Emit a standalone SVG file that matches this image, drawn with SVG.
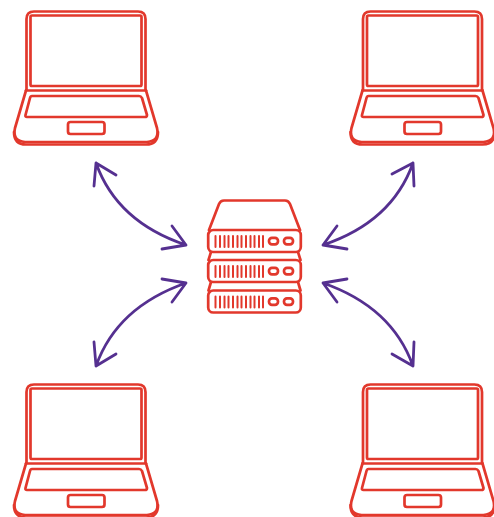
<svg xmlns="http://www.w3.org/2000/svg" width="494" height="517" viewBox="0 0 494 517">
<style>
.r{fill:none;stroke:#e2382c;stroke-width:2.700;stroke-linejoin:round;stroke-linecap:round}
.b{fill:none;stroke:#e2382c;stroke-width:2;stroke-linecap:round}
.a{fill:none;stroke:#553090;stroke-width:2.800;stroke-linecap:round;stroke-linejoin:round}
</style>
<defs>
<g id="laptop">
<path class="r" d="M26.500 90V19Q26.500 11.500 34 11.500H138Q145.500 11.500 145.500 19V90"/>
<rect class="r" x="30.500" y="15.500" width="111" height="70.500" rx="1.500"/>
<path class="r" d="M26 90.500H146"/>
<path class="r" d="M26 90.500L15 128Q12 141 25 142H147Q160 141 157 128L146 90.500"/>
<path class="r" d="M14 132Q14 144.500 26 144.500H146Q158 144.500 158 132"/>
<path class="r" d="M32 96H139Q141 96 142 98L147 115Q147 117 145 117H27Q25 117 25.500 115L30 98Q30.500 96 32 96Z"/>
<rect class="r" x="68" y="122" width="36.500" height="12" rx="2.500"/>
</g>
<g id="unit">
<rect class="r" x="208.200" y="0" width="92.600" height="22" rx="5"/>
<path class="b" d="M215.500 6V17M220 6V17M224.500 6V17M228.500 6V17M233 6V17M237.500 6V17M241.500 6V17M246 6V17M250.500 6V17M254.500 6V17M259 6V17M263 6V17"/>
<rect class="r" x="269" y="7.800" width="9" height="6.500" rx="3"/>
<rect class="r" x="284" y="7.800" width="9" height="6.500" rx="3"/>
</g>
</defs>
<g id="connectors">
<g id="conn-tl"><path class="a" d="M96 163Q117 222 186 245M116 175L96 163L94 186M172 226L186 245L162 249"/></g>
<g id="conn-tr"><path class="a" d="M413 163Q392 222 323 245M392 174L413 163L414 186M337 226L323 245L347 249"/></g>
<g id="conn-bl"><path class="a" d="M96 366Q117 307 186 283M116 354L96 366L94 342M172 302L186 283L162 279"/></g>
<g id="conn-br"><path class="a" d="M413 366Q392 307 323 283M392 354L413 366L414 342M337 302L323 283L347 279"/></g>
</g>
<g id="laptop-top-left"><use href="#laptop"/></g>
<g id="laptop-top-right"><use href="#laptop" x="336.500"/></g>
<g id="laptop-bottom-left"><use href="#laptop" y="373"/></g>
<g id="laptop-bottom-right"><use href="#laptop" x="336.500" y="373"/></g>
<g id="server">
<path class="r" d="M209 230L219 204Q220.500 200.500 224 200.500H285Q288.500 200.500 290 204L300 230"/>
<use href="#unit" y="230"/>
<path class="r" d="M211 252L208.500 260M298 252L300.500 260"/>
<use href="#unit" y="260"/>
<path class="r" d="M211 282L208.500 290.500M298 282L300.500 290.500"/>
<use href="#unit" y="290.500"/>
</g>
</svg>
